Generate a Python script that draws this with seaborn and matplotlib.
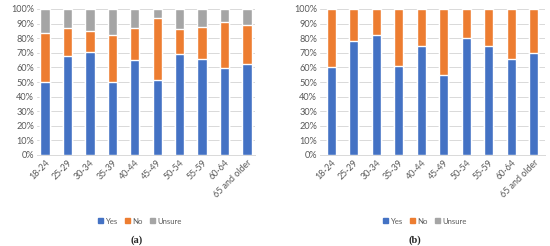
import numpy as np
import seaborn as sns
import matplotlib.pyplot as plt
from matplotlib.patches import Patch
from matplotlib.ticker import PercentFormatter

# 年齢層ごとの回答割合（%）
ages = ['18-24', '25-29', '30-34', '35-39', '40-44', '45-49', '50-54', '55-59', '60-64', '65 and older']

yes_a = [50, 68, 70.5, 50, 65, 51.5, 69, 65.5, 59.5, 62]
no_a = [33.3, 18.8, 14.7, 32, 22, 42.5, 17, 22, 31.5, 26.8]
unsure_a = [16.7, 13.2, 14.8, 18, 13, 6, 14, 12.5, 9, 11.2]

yes_b = [60, 78, 82.5, 61, 75, 55, 80, 75, 65.5, 70]
no_b = [40, 22, 17.5, 39, 25, 45, 20, 25, 34.5, 30]
unsure_b = [0, 0, 0, 0, 0, 0, 0, 0, 0, 0]

colors = {'Yes': '#4472C4', 'No': '#ED7D31', 'Unsure': '#A5A5A5'}

sns.set_style('white')
plt.rcParams['font.family'] = ['Lato', 'DejaVu Sans']

fig = plt.figure(figsize=(5.5, 2.46), dpi=100)
W, H = 550, 246


def panel(rect, yes, no, unsure, xlim, width, tag, tag_x, leg_x):
    l, r = rect
    ax = fig.add_axes([l / W, (H - 155) / H, (r - l) / W, 146 / H])
    yes = np.array(yes)
    no = np.array(no)
    unsure = np.array(unsure)
    # 積み上げ：合計から順に重ねて描く
    sns.barplot(x=ages, y=yes + no + unsure, color=colors['Unsure'], width=width, ax=ax, saturation=1)
    sns.barplot(x=ages, y=yes + no, color=colors['No'], width=width, ax=ax, saturation=1)
    sns.barplot(x=ages, y=yes, color=colors['Yes'], width=width, ax=ax, saturation=1)
    ax.set_ylim(0, 100)
    ax.set_xlim(*xlim)
    ax.set_yticks(np.arange(0, 101, 10))
    ax.yaxis.set_major_formatter(PercentFormatter(decimals=0))
    ax.set_axisbelow(True)
    ax.grid(axis='y', color='#D9D9D9', linewidth=0.7)
    for s in ['top', 'right', 'left']:
        ax.spines[s].set_visible(False)
    ax.spines['bottom'].set_color('#D9D9D9')
    ax.spines['bottom'].set_linewidth(0.7)
    ax.tick_params(axis='y', length=0, labelsize=6.6, colors='#595959', pad=2)
    ax.tick_params(axis='x', length=0, labelsize=6.4, colors='#595959', pad=2)
    plt.setp(ax.get_xticklabels(), rotation=45, ha='right', rotation_mode='anchor')
    ax.set_xlabel('')
    ax.set_ylabel('')
    handles = [Patch(color=colors[k], label=k) for k in ['Yes', 'No', 'Unsure']]
    fig.legend(handles=handles, loc='center', bbox_to_anchor=(leg_x / W, 1 - 221 / H),
               ncol=3, frameon=False, fontsize=5.6, handlelength=0.6, handleheight=0.6,
               handletextpad=0.3, columnspacing=1.0, labelcolor='#595959')
    fig.text(tag_x / W, 1 - 240 / H, tag, ha='center', va='center', fontsize=7.5,
             fontweight='bold', family=['Liberation Serif', 'DejaVu Serif'])


panel((37, 255), yes_a, no_a, unsure_a, (-0.36, 9.36), 0.41, '(a)', 137, 140)
panel((320, 545), yes_b, no_b, unsure_b, (-0.5, 9.5), 0.38, '(b)', 415, 425)

fig.savefig('out.png', dpi=100)
